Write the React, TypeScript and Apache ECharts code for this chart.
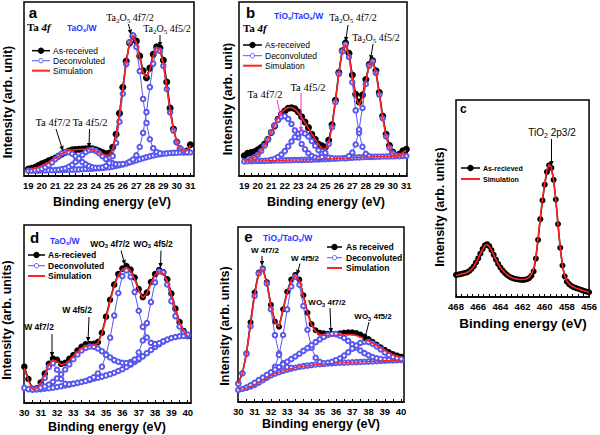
import React, { useEffect, useRef } from "react";
import * as echarts from "echarts";

// ---------- shared ----------
const STEP = 0.25;

// ---------- Panel a : Ta 4f, TaOx/W (19..31 eV) ----------
const aStart = 19;
const aAsReceived = [4, 4.5, 5, 6, 7, 7.8, 8.7, 9.5, 10.3, 11.5, 12.6, 13.6, 14.4, 15, 15.2, 15.4, 15.5, 15.6, 15.8, 15.6, 15.1, 14.3, 13.5, 12.8, 13.2, 16.5, 24, 36, 51, 66, 76.5, 80.5, 77.5, 69, 60.5, 56.5, 62, 70, 74.2, 73.5, 66.5, 54, 39, 27, 19.5, 15.5, 14, 14.3, 18];
const aSimulation = [3.5, 4.0, 4.5, 5.2, 6.0, 6.9, 7.9, 9.0, 10.1, 11.2, 12.8, 13.8, 14.5, 14.9, 15.1, 15.2, 15.3, 15.4, 15.4, 15.0, 14.3, 13.3, 12.3, 11.8, 12.2, 15.5, 23.5, 35.5, 50.5, 65.5, 76.5, 80.8, 77.0, 68.0, 59.5, 56.4, 61.0, 69.0, 74.0, 72.8, 64.5, 51.5, 37.5, 26.5, 19.5, 15.8, 14.3, 14.5, 17.5];
const aBackground = [3.0, 3.0, 3.1, 3.1, 3.2, 3.2, 3.3, 3.3, 3.4, 3.4, 3.5, 3.5, 3.6, 3.6, 3.7, 3.8, 3.9, 4.0, 4.1, 4.2, 4.3, 4.5, 4.7, 4.9, 5.1, 5.4, 5.8, 6.2, 6.7, 7.2, 7.8, 8.4, 9.0, 9.6, 10.2, 10.8, 11.3, 11.8, 12.2, 12.5, 12.8, 13.0, 13.2, 13.3, 13.4, 13.5, 13.5, 13.5, 13.5];
const aTa4f72Start = 19.5;
const aTa4f72 = [3.3, 3.6, 4.2, 5.0, 6.2, 7.8, 9.7, 11.4, 13.0, 13.7, 13.7, 12.8, 11.4, 9.7, 8.0, 6.7, 5.7, 5.0, 4.7, 4.7, 4.7];
const aTa4f52Start = 21.25;
const aTa4f52 = [3.6, 4.0, 4.4, 5.3, 6.4, 8.1, 10.1, 12.1, 13.8, 14.9, 15.1, 14.4, 13.1, 11.4, 9.7, 8.2, 7.3, 6.8, 6.7, 6.9];
const aOx72Start = 24.5;
const aOx72 = [4.9, 5.7, 7.5, 11.4, 19.0, 31.2, 47.3, 64.3, 77.0, 80.8, 74.2, 60.3, 44.3, 30.5, 21.1, 16.0, 13.8, 13.0];
const aOx52Start = 26.5;
const aOx52 = [8.1, 9.5, 11.9, 16.7, 24.8, 36.7, 51.1, 64.6, 72.5, 71.9, 63.3, 50.0, 36.6, 26.1, 19.4, 15.9, 14.4, 13.8];

// ---------- Panel b : Ta 4f, TiOx/TaOx/W (19..31 eV) ----------
const bStart = 19;
const bAsReceived = [11.6, 13.1, 13.5, 13.9, 15.0, 16.4, 18.3, 21.1, 25.0, 28.8, 32.6, 35.4, 37.3, 38.9, 39.2, 38.7, 36.8, 34.1, 31.0, 27.8, 24.0, 21.1, 18.3, 17.3, 16.5, 20.5, 29.5, 43.5, 59.5, 72.0, 76.4, 70.5, 58.0, 47.0, 42.5, 46.5, 55.5, 64.0, 66.3, 60.5, 48.0, 34.5, 24.0, 17.5, 13.8, 11.8, 12.6, 14.5, 15.4];
const bSimulation = [9.0, 9.3, 9.8, 10.8, 12.3, 14.5, 17.5, 21.1, 25.4, 29.8, 33.5, 36.4, 38.4, 39.4, 39.4, 38.4, 36.4, 33.7, 30.6, 27.4, 24.2, 21.1, 18.3, 16.0, 15.3, 19.3, 28.4, 42.4, 58.8, 71.8, 75.7, 69.4, 56.9, 45.2, 40.8, 45.1, 54.8, 63.6, 65.8, 59.2, 46.7, 33.2, 22.7, 16.2, 13.0, 11.7, 12.2, 13.5, 14.8];
const bBackground = [8.4, 8.5, 8.5, 8.6, 8.6, 8.7, 8.7, 8.8, 8.8, 8.9, 8.9, 9.0, 9.0, 9.1, 9.1, 9.2, 9.2, 9.3, 9.3, 9.4, 9.4, 9.5, 9.5, 9.6, 9.7, 9.8, 9.9, 10.0, 10.1, 10.2, 10.3, 10.4, 10.5, 10.6, 10.7, 10.8, 10.9, 11.0, 11.0, 11.1, 11.1, 11.2, 11.2, 11.3, 11.3, 11.4, 11.4, 11.5, 11.5];
const bTa4f72Start = 19.5;
const bTa4f72 = [9.7, 10.7, 12.2, 14.4, 17.4, 21.0, 25.1, 29.1, 32.2, 34.1, 34.4, 32.8, 29.9, 26.2, 22.2, 18.4, 15.4, 13.1, 11.5, 10.6, 10.0, 9.8];
const bTa4f52Start = 21;
const bTa4f52 = [9.3, 9.9, 10.9, 12.3, 14.3, 17.0, 19.8, 22.4, 24.3, 25.0, 24.4, 22.7, 20.1, 17.4, 14.8, 12.8, 11.5, 10.6, 10.2];
const bOx72Start = 24.5;
const bOx72 = [10.0, 10.9, 13.3, 18.4, 28.0, 42.4, 58.7, 71.6, 75.5, 68.4, 53.9, 37.7, 24.8, 16.8, 12.8, 11.3];
const bOx52Start = 26.5;
const bOx52 = [10.2, 11.4, 13.5, 18.1, 26.7, 39.1, 52.9, 63.3, 65.8, 59.2, 46.7, 33.2, 22.7, 16.2, 13.0, 11.7];

// ---------- Panel c : Ti 2p (468 -> 456 eV, step 0.2) ----------
const cStart = 468;
const cStep = -0.2;
const cAsReceived = [11.2, 11.4, 11.6, 11.9, 12.2, 12.5, 13.2, 14.2, 15.6, 17.5, 19.6, 22.0, 24.4, 26.2, 26.8, 25.8, 23.8, 21.4, 19.0, 16.8, 15.0, 13.5, 12.2, 11.2, 10.4, 9.8, 9.4, 9.1, 8.9, 8.8, 8.7, 8.8, 9.0, 9.6, 10.8, 13.0, 19.5, 29.0, 39.5, 49.0, 57.0, 63.5, 66.8, 65.5, 59.5, 49.5, 37.0, 25.0, 16.0, 10.5, 7.8, 6.5, 5.6, 5.0, 4.6, 4.2, 3.8, 3.4, 3.0, 2.7, 2.4];
const cSimulation = [11.0, 11.2, 11.5, 11.8, 12.1, 12.5, 13.1, 14.1, 15.5, 17.4, 19.6, 22.0, 24.3, 26.0, 26.6, 25.7, 23.8, 21.4, 19.0, 16.9, 15.1, 13.6, 12.3, 11.3, 10.5, 9.9, 9.5, 9.2, 9.0, 8.9, 8.9, 9.0, 9.3, 10.0, 11.5, 14.2, 20.5, 30.0, 40.5, 50.0, 58.0, 64.5, 67.3, 65.8, 59.5, 49.0, 36.5, 24.5, 15.8, 10.6, 8.0, 6.6, 5.7, 5.1, 4.6, 4.2, 3.8, 3.4, 3.0, 2.7, 2.4];

// ---------- Panel d : W 4f, TaOx/W (30..40 eV) ----------
const dStart = 30;
const dAsReceived = [20.4, 13.5, 8.0, 8.2, 11.5, 16.5, 22.0, 25.0, 24.3, 22.0, 22.6, 24.8, 27.0, 29.5, 31.6, 33.0, 33.1, 33.2, 34.2, 39.5, 48.5, 58.0, 66.5, 72.5, 75.5, 77.0, 75.0, 70.5, 64.0, 59.5, 62.0, 68.0, 72.5, 74.7, 73.5, 69.5, 61.5, 53.0, 45.5, 40.5, 37.6];
const dSimulation = [19.5, 12.5, 7.8, 8.0, 10.8, 15.8, 21.5, 24.2, 23.3, 21.5, 22.0, 24.0, 26.2, 28.6, 30.6, 31.9, 32.2, 32.4, 33.6, 38.8, 47.5, 57.0, 65.8, 71.8, 75.0, 76.2, 74.3, 69.6, 63.2, 59.0, 61.4, 67.2, 71.8, 73.9, 72.8, 68.7, 60.7, 52.4, 45.0, 40.2, 37.5];
const dBackground = [8.5, 7.8, 7.5, 7.6, 7.8, 8.0, 8.3, 8.6, 9.0, 9.4, 9.8, 10.3, 10.8, 11.3, 11.8, 12.4, 13.0, 13.6, 14.2, 14.8, 15.5, 16.2, 17.0, 18.0, 19.0, 20.2, 21.5, 23.0, 24.5, 26.2, 28.0, 29.8, 31.5, 33.0, 34.5, 35.6, 36.5, 37.1, 37.5, 37.7, 37.8];
const dW4f72Start = 30.5;
const dW4f72 = [7.6, 7.9, 9.7, 14.1, 20.2, 22.4, 18.7, 13.5, 10.8, 10.5, 10.8];
const dW4f52Start = 31;
const dW4f52 = [8.6, 9.3, 10.4, 11.9, 13.8, 16.1, 18.8, 21.7, 24.6, 27.3, 29.5, 31.0, 31.7, 31.6, 30.6, 29.1, 27.4, 25.6, 24.1, 23.2, 22.6, 22.5, 23.0, 23.9, 25.0];
const dWO72Start = 34;
const dWO72 = [13.3, 14.5, 16.6, 20.4, 27.0, 36.7, 49.1, 61.8, 71.2, 74.5, 70.9, 62.3, 51.8, 42.8, 36.8, 33.8, 33.1, 33.6, 34.7];
const dWO52Start = 36.5;
const dWO52 = [22.0, 24.4, 28.4, 35.1, 44.9, 56.7, 67.7, 73.9, 73.3, 66.6, 57.2, 48.8, 43.0, 39.9, 38.5];

// ---------- Panel e : W 4f, TiOx/TaOx/W (30..40 eV) ----------
const eStart = 30;
const eAsReceived = [10.7, 16.4, 27.8, 45.5, 62.5, 74.0, 76.4, 68.5, 55.5, 46.0, 43.0, 53.0, 63.0, 70.0, 72.6, 70.0, 61.0, 51.0, 44.5, 41.0, 39.6, 39.2, 39.0, 39.0, 39.0, 39.2, 39.6, 39.8, 39.8, 39.4, 38.5, 37.4, 36.0, 34.4, 32.8, 31.2, 29.8, 28.5, 27.4, 26.6, 25.9];
const eSimulation = [10.4, 16.4, 27.5, 44.5, 61.5, 73.5, 76.0, 68.0, 55.0, 45.5, 43.0, 52.5, 62.5, 69.5, 72.0, 69.5, 60.5, 50.5, 44.0, 40.3, 38.6, 38.2, 38.0, 38.0, 38.1, 38.2, 38.4, 38.5, 38.4, 38.0, 37.2, 36.2, 35.0, 33.6, 32.2, 30.8, 29.4, 28.1, 27.0, 26.2, 25.6];
const eBackground = [6.9, 7.4, 8.1, 8.9, 9.8, 11.0, 12.4, 13.9, 15.2, 16.2, 17.0, 17.8, 18.5, 19.1, 19.6, 20.1, 20.5, 20.8, 21.1, 21.4, 21.6, 21.8, 22.0, 22.1, 22.3, 22.4, 22.5, 22.6, 22.7, 22.8, 22.9, 23.0, 23.1, 23.2, 23.3, 23.5, 23.6, 23.7, 23.8, 23.9, 24.0];
const eW4f72Start = 30;
const eW4f72 = [10.4, 16.4, 27.5, 43.3, 60.6, 73.4, 75.9, 67.7, 53.0, 38.2, 27.7, 22.1, 19.9, 19.5];
const eW4f52Start = 31.75;
const eW4f52 = [14.2, 16.5, 20.1, 26.9, 38.3, 52.9, 66.0, 71.6, 67.0, 54.9, 41.3, 31.0, 25.3, 22.9, 22.1];
const eWO72Start = 30.5;
const eWO72 = [8.3, 9.5, 11.0, 12.5, 14.0, 15.5, 17.0, 18.5, 20.0, 21.5, 23.0, 24.5, 26.0, 27.6, 29.2, 30.8, 32.5, 34.2, 35.8, 37.2, 38.3, 38.9, 38.8, 37.9, 36.6, 34.9, 33.0, 31.1, 29.4, 27.9, 26.7, 25.7, 25.0, 24.6, 24.3, 24.1, 24.0, 24.0, 24.0];
const eWO52Start = 35.5;
const eWO52 = [22.4, 23.0, 23.9, 25.0, 26.5, 28.4, 30.5, 32.3, 33.8, 34.5, 34.3, 33.3, 31.8, 30.1, 28.3, 26.8, 25.7, 25.0, 24.6];

// ---------- tick labels ----------
const abTickLabels = [19, 20, 21, 22, 23, 24, 25, 26, 27, 28, 29, 30, 31];
const cTickLabels = [468, 466, 464, 462, 460, 458, 456];
const deTickLabels = [30, 31, 32, 33, 34, 35, 36, 37, 38, 39, 40];

// ---------- styling ----------
const BLUE = "#5858f0";
const RED = "#ff2323";
const MAGENTA = "#ff2fd0";
const TBLUE = "#2436ff";
const SANS = '"Liberation Sans", Arial, sans-serif';
const SERIF = '"Liberation Serif", "Times New Roman", serif';

function pts(start: number, step: number, vals: number[]) {
  return vals.map((v, i) => [Math.round((start + i * step) * 1000) / 1000, v]);
}

function subTicks(labels: number[], sub: number) {
  const s = [...labels].sort((p, q) => p - q);
  const out: number[] = [];
  s.forEach((v, i) => {
    out.push(v);
    if (i < s.length - 1) {
      const d = (s[i + 1] - v) / sub;
      for (let k = 1; k < sub; k++) out.push(Math.round((v + k * d) * 1000) / 1000);
    }
  });
  return out;
}

type Kind = "dec" | "bgsim" | "rec" | "sim";
function ser(idx: number, data: number[][], kind: Kind, recSize = 6.5) {
  const base: any = {
    type: "line",
    xAxisIndex: idx,
    yAxisIndex: idx,
    data,
    silent: true,
    animation: false,
    showAllSymbol: true,
    emphasis: { disabled: true },
  };
  if (kind === "dec")
    return { ...base, symbol: "emptyCircle", symbolSize: 4.5, itemStyle: { color: BLUE, borderWidth: 1 }, lineStyle: { color: BLUE, width: 1 }, z: 3 };
  if (kind === "bgsim")
    return { ...base, symbol: "none", lineStyle: { color: RED, width: 1.2 }, z: 4 };
  if (kind === "rec")
    return { ...base, symbol: "circle", symbolSize: recSize, itemStyle: { color: "#000" }, lineStyle: { color: "#000", width: 1.5 }, z: 2 };
  return { ...base, symbol: "none", lineStyle: { color: RED, width: 1.6 }, z: 5 };
}

function txt(x: number, y: number, text: string, o: any = {}) {
  return {
    type: "text",
    x,
    y,
    rotation: o.rotation || 0,
    z: 20,
    style: {
      text,
      fontSize: o.size || 10,
      fontFamily: o.family || SANS,
      fontWeight: o.weight || "normal",
      fontStyle: o.style || "normal",
      fill: o.color || "#000",
      align: o.align || "center",
      verticalAlign: "middle",
      rich: o.rich,
    },
  };
}

function richSub(x: number, y: number, parts: [string, boolean][], o: any) {
  const size = o.size || 10;
  const common = { fontFamily: o.family || SANS, fontWeight: o.weight || "normal", fill: o.color || "#000" };
  const text = parts.map(([t, s]) => `{${s ? "s" : "n"}|${t}}`).join("");
  const ss = Math.round(size * 0.7 * 10) / 10;
  const pad = Math.round(size * 0.55);
  return txt(x, y, text, {
    ...o,
    rich: {
      n: { ...common, fontSize: size },
      s: { ...common, fontSize: ss, padding: [pad, 0, 0, 0] },
    },
  });
}

function arrow(x1: number, y1: number, x2: number, y2: number, color = "#000") {
  const a = Math.atan2(y2 - y1, x2 - x1);
  const L = 5;
  const W = 2.2;
  const bx = x2 - L * Math.cos(a);
  const by = y2 - L * Math.sin(a);
  const px = -Math.sin(a) * W;
  const py = Math.cos(a) * W;
  return [
    { type: "line", z: 20, shape: { x1, y1, x2: bx, y2: by }, style: { stroke: color, lineWidth: 1 } },
    { type: "polygon", z: 20, shape: { points: [[x2, y2], [bx + px, by + py], [bx - px, by - py]] }, style: { fill: color } },
  ];
}

function legend(x0: number, x1: number, tx: number, ys: number[], labels: string[], kinds: Kind[], size: number, weight = "normal") {
  const els: any[] = [];
  const cx = (x0 + x1) / 2;
  kinds.forEach((k, i) => {
    const y = ys[i];
    if (k === "rec") {
      els.push({ type: "line", z: 20, shape: { x1: x0, y1: y, x2: x1, y2: y }, style: { stroke: "#000", lineWidth: 1.5 } });
      els.push({ type: "circle", z: 21, shape: { cx, cy: y, r: 3.2 }, style: { fill: "#000" } });
    } else if (k === "dec") {
      els.push({ type: "line", z: 20, shape: { x1: x0, y1: y, x2: x1, y2: y }, style: { stroke: BLUE, lineWidth: 1 } });
      els.push({ type: "circle", z: 21, shape: { cx, cy: y, r: 2.2 }, style: { fill: "#fff", stroke: BLUE, lineWidth: 1 } });
    } else {
      els.push({ type: "line", z: 20, shape: { x1: x0, y1: y, x2: x1, y2: y }, style: { stroke: RED, lineWidth: 2 } });
    }
    els.push(txt(tx, y, labels[i], { size, weight, align: "left" }));
  });
  return els;
}

function xAxisCfg(gi: number, min: number, max: number, labels: number[], sub: number, inverse = false) {
  return {
    type: "value",
    gridIndex: gi,
    min,
    max,
    inverse,
    axisLine: { show: true, onZero: false, lineStyle: { color: "#000", width: 1.5 } },
    axisTick: { show: true, inside: true, length: 3, customValues: subTicks(labels, sub), lineStyle: { color: "#000", width: 1 } },
    axisLabel: { show: true, customValues: labels, margin: 4, fontSize: 9.5, fontWeight: "bold", color: "#000", fontFamily: SANS },
    splitLine: { show: false },
  };
}

const ta4fRich = {
  r: { fontFamily: SERIF, fontSize: 11, fontWeight: "bold", fill: "#000" },
  i: { fontFamily: SERIF, fontSize: 11, fontWeight: "bold", fontStyle: "italic", fill: "#000" },
};

export default function App() {
  const ref = useRef<HTMLDivElement>(null);
  useEffect(() => {
    if (!ref.current) return;
    const chart = echarts.init(ref.current, undefined, { renderer: "svg" });
    const gridBase = { show: true, borderColor: "#000", borderWidth: 1.5, backgroundColor: "transparent", containLabel: false };

    const series: any[] = [
      // a
      ser(0, pts(aStart, STEP, aAsReceived), "rec", 7),
      ser(0, pts(aStart, STEP, aBackground), "dec"),
      ser(0, pts(aTa4f72Start, STEP, aTa4f72), "dec"),
      ser(0, pts(aTa4f52Start, STEP, aTa4f52), "dec"),
      ser(0, pts(aOx72Start, STEP, aOx72), "dec"),
      ser(0, pts(aOx52Start, STEP, aOx52), "dec"),
      ser(0, pts(aStart, STEP, aSimulation), "sim"),
      // b
      ser(1, pts(bStart, STEP, bAsReceived), "rec", 7),
      ser(1, pts(bStart, STEP, bBackground), "dec"),
      ser(1, pts(bStart, STEP, bBackground), "bgsim"),
      ser(1, pts(bTa4f72Start, STEP, bTa4f72), "dec"),
      ser(1, pts(bTa4f52Start, STEP, bTa4f52), "dec"),
      ser(1, pts(bOx72Start, STEP, bOx72), "dec"),
      ser(1, pts(bOx52Start, STEP, bOx52), "dec"),
      ser(1, pts(bStart, STEP, bSimulation), "sim"),
      // c
      ser(2, pts(cStart, cStep, cAsReceived), "rec", 6),
      ser(2, pts(cStart, cStep, cSimulation), "sim"),
      // d
      ser(3, pts(dStart, STEP, dAsReceived), "rec", 6.5),
      ser(3, pts(dStart, STEP, dBackground), "dec"),
      ser(3, pts(dW4f72Start, STEP, dW4f72), "dec"),
      ser(3, pts(dW4f52Start, STEP, dW4f52), "dec"),
      ser(3, pts(dWO72Start, STEP, dWO72), "dec"),
      ser(3, pts(dWO52Start, STEP, dWO52), "dec"),
      ser(3, pts(dStart, STEP, dSimulation), "sim"),
      // e
      ser(4, pts(eStart, STEP, eAsReceived), "rec", 6),
      ser(4, pts(eStart, STEP, eBackground), "dec"),
      ser(4, pts(eStart, STEP, eBackground), "bgsim"),
      ser(4, pts(eW4f72Start, STEP, eW4f72), "dec"),
      ser(4, pts(eW4f52Start, STEP, eW4f52), "dec"),
      ser(4, pts(eWO72Start, STEP, eWO72), "dec"),
      ser(4, pts(eWO52Start, STEP, eWO52), "dec"),
      ser(4, pts(eStart, STEP, eSimulation), "sim"),
    ];

    const serifLbl = { size: 10, family: SERIF };
    const dLbl = { size: 8.5, weight: "bold" };
    const titleX = { size: 12.5, weight: "bold" };
    const titleY = { size: 12.5, weight: "bold", rotation: Math.PI / 2 };

    const elements: any[] = [
      // ---- panel a ----
      txt(33, 12.5, "a", { size: 15, weight: "bold" }),
      txt(27, 26.8, "{r|Ta }{i|4f}", { align: "left", rich: ta4fRich }),
      richSub(67, 27.5, [["TaO", false], ["x", true], ["/W", false]], { size: 8.5, weight: "bold", color: TBLUE, align: "left" }),
      ...legend(32, 50, 53, [50.7, 60.7, 70.7], ["As-received", "Deconvoluted", "Simulation"], ["rec", "dec", "sim"], 8.5),
      richSub(130, 17.5, [["Ta", false], ["2", true], ["O", false], ["5", true], [" 4f7/2", false]], serifLbl),
      ...arrow(128.5, 24, 131, 34.5),
      richSub(167, 28.5, [["Ta", false], ["2", true], ["O", false], ["5", true], [" 4f5/2", false]], serifLbl),
      ...arrow(160, 35, 160, 47),
      txt(53, 122, "Ta 4f7/2", { size: 10.5, family: SERIF }),
      ...arrow(56, 129, 63, 151),
      txt(90, 122, "Ta 4f5/2", { size: 10.5, family: SERIF }),
      ...arrow(89.5, 129, 89, 148),
      txt(8, 102, "Intensity (arb. unit)", titleY),
      txt(112, 202, "Binding energy (eV)", titleX),

      // ---- panel b ----
      txt(250.5, 12.5, "b", { size: 15, weight: "bold" }),
      txt(243, 28, "{r|Ta }{i|4f}", { align: "left", rich: ta4fRich }),
      richSub(274, 15.5, [["TiO", false], ["x", true], ["/TaO", false], ["x", true], ["/W", false]], { size: 8.5, weight: "bold", color: TBLUE, align: "left" }),
      ...legend(243, 262, 265, [45, 55.7, 65.7], ["As-received", "Deconvoluted", "Simulation"], ["rec", "dec", "sim"], 8.5),
      richSub(353, 17.5, [["Ta", false], ["2", true], ["O", false], ["5", true], [" 4f7/2", false]], serifLbl),
      ...arrow(348, 25, 345.5, 42),
      richSub(376, 37.5, [["Ta", false], ["2", true], ["O", false], ["5", true], [" 4f5/2", false]], serifLbl),
      ...arrow(373, 44, 370.5, 60),
      txt(265, 94, "Ta 4f7/2", { size: 10.5, family: SERIF }),
      ...arrow(277, 100, 281, 117, MAGENTA),
      txt(308, 87, "Ta 4f5/2", { size: 10.5, family: SERIF }),
      ...arrow(301, 93, 301, 132, MAGENTA),
      txt(227.5, 99, "Intensity (arb. unit)", titleY),
      txt(326, 202, "Binding energy (eV)", titleX),

      // ---- panel c ----
      txt(463.3, 108.5, "c", { size: 12, weight: "bold" }),
      richSub(552, 132, [["TiO", false], ["2", true], [" 2p3/2", false]], { size: 10 }),
      ...arrow(551.5, 139, 551.5, 166),
      ...legend(461, 480, 483, [168, 179], ["As-recieved", "Simulation"], ["rec", "sim"], 7, "bold"),
      txt(440, 207, "Intensity (arb. units)", titleY),
      txt(523, 323, "Binding energy (eV)", { size: 13.5, weight: "bold" }),

      // ---- panel d ----
      txt(34.7, 237.5, "d", { size: 15, weight: "bold" }),
      richSub(50, 240.5, [["TaO", false], ["x", true], ["/W", false]], { size: 8.5, weight: "bold", color: TBLUE, align: "left" }),
      ...legend(28, 45, 48, [255, 265.7, 276], ["As-recieved", "Deconvoluted", "Simulation"], ["rec", "dec", "sim"], 8.5, "bold"),
      richSub(110, 243.5, [["WO", false], ["3", true], [" 4f7/2", false]], dLbl),
      ...arrow(121, 250.5, 125, 265),
      richSub(153, 243.5, [["WO", false], ["3", true], [" 4f5/2", false]], dLbl),
      ...arrow(161, 250.5, 160.5, 268),
      txt(77, 310, "W 4f5/2", dLbl),
      ...arrow(89, 317, 88, 342),
      txt(39, 327, "W 4f7/2", dLbl),
      ...arrow(52, 334, 52, 357),
      txt(7, 320, "Intensity (arb. units)", titleY),
      txt(107, 427, "Binding energy (eV)", titleX),

      // ---- panel e ----
      txt(248.3, 236, "e", { size: 15, weight: "bold" }),
      richSub(263, 237.5, [["TiO", false], ["x", true], ["/TaO", false], ["x", true], ["/W", false]], { size: 8.5, weight: "bold", color: TBLUE, align: "left" }),
      ...legend(327, 342, 346, [247, 257.7, 268], ["As received", "Deconvoluted", "Simulation"], ["rec", "dec", "sim"], 8.5, "bold"),
      txt(265, 250.7, "W 4f7/2", { size: 8, weight: "bold" }),
      ...arrow(262, 256, 262, 266),
      txt(305, 258, "W 4f5/2", { size: 8, weight: "bold" }),
      ...arrow(300, 263.5, 297, 275),
      richSub(327, 302.5, [["WO", false], ["3", true], [" 4f7/2", false]], { size: 8, weight: "bold" }),
      ...arrow(330, 308, 331, 333),
      richSub(373, 316.5, [["WO", false], ["3", true], [" 4f5/2", false]], { size: 8, weight: "bold" }),
      ...arrow(369, 322, 364, 342),
      txt(225, 326, "Intensity (arb. units)", titleY),
      txt(321, 424, "Binding energy (eV)", titleX),
    ];

    chart.setOption({
      animation: false,
      grid: [
        { ...gridBase, left: 24, top: 2, width: 170, height: 174 },
        { ...gridBase, left: 239, top: 2, width: 168, height: 174 },
        { ...gridBase, left: 456, top: 100, width: 135, height: 197 },
        { ...gridBase, left: 24, top: 225, width: 167, height: 178 },
        { ...gridBase, left: 238, top: 227, width: 166, height: 175 },
      ],
      xAxis: [
        xAxisCfg(0, 18.68, 31.27, abTickLabels, 2),
        xAxisCfg(1, 18.61, 31.05, abTickLabels, 2),
        xAxisCfg(2, 456, 468, cTickLabels, 4, true),
        xAxisCfg(3, 29.98, 40.2, deTickLabels, 2),
        xAxisCfg(4, 29.98, 40.18, deTickLabels, 2),
      ],
      yAxis: [0, 1, 2, 3, 4].map((i) => ({ type: "value", gridIndex: i, min: 0, max: 100, show: false })),
      series,
      graphic: { elements },
    });
    return () => chart.dispose();
  }, []);
  return <div ref={ref} style={{ position: "absolute", left: 0, top: 0, width: 600, height: 435, background: "#fff" }} />;
}
